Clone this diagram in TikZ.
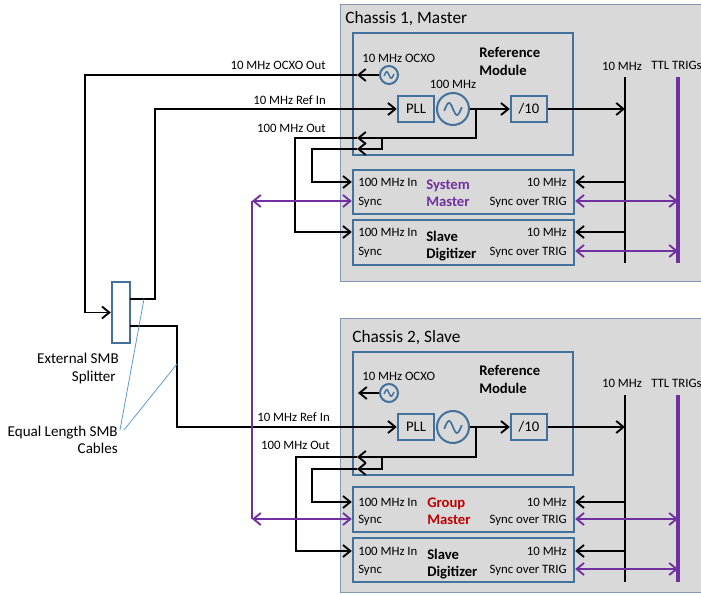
\documentclass[tikz,border=0pt]{standalone}
\usepackage{fontspec}
\setmainfont{Carlito}
\usetikzlibrary{arrows.meta,fit}
\definecolor{chfill}{HTML}{D9D9D9}
\definecolor{chline}{HTML}{8497B0}
\definecolor{boxblue}{HTML}{41719C}
\definecolor{purp}{HTML}{7030A0}
\definecolor{redm}{HTML}{C00000}
\definecolor{annot}{HTML}{5B9BD5}
\begin{document}
\begin{tikzpicture}[x=0.75pt,y=-0.75pt,
  chassis/.style={draw=chline, fill=chfill, line width=0.75pt, inner sep=0pt},
  modbox/.style={draw=boxblue, line width=1.8pt, inner sep=0pt},
  smallbox/.style={draw=boxblue, line width=1.8pt, inner sep=0pt, minimum width=27pt, minimum height=19.5pt, font=\fontsize{11}{13}\selectfont},
  oscbig/.style={circle, draw=boxblue, line width=1.5pt, inner sep=0pt, minimum size=24pt},
  oscsmall/.style={circle, draw=boxblue, line width=1.5pt, inner sep=0pt, minimum size=13.5pt},
  conn/.style={line width=1.4pt, black},
  arr/.style={-{Straight Barb[length=5.5pt,width=9pt]}},
  darr/.style={{Straight Barb[length=5.5pt,width=9pt]}-{Straight Barb[length=5.5pt,width=9pt]}},
  pconn/.style={line width=1.4pt, purp},
  lbl/.style={font=\fontsize{9.6}{11}\selectfont, inner sep=0pt, text height=6.2pt, text depth=0pt},
  biglbl/.style={font=\fontsize{11.3}{13}\selectfont, inner sep=0pt, text height=7.3pt, text depth=0pt},
  blbl/.style={font=\fontsize{11}{13}\selectfont\bfseries, inner sep=0pt, text height=7.1pt, text depth=0pt, anchor=west},
  ttl/.style={font=\fontsize{13}{15}\selectfont, inner sep=0pt, text height=8.4pt, text depth=0pt, anchor=west},
  sine/.style={boxblue, line width=1.3pt}
]
\useasboundingbox (0,0) rectangle (701,595);
\clip (0,0) rectangle (701,595);

% chassis
\node[chassis, fit={(340,5) (712,282)}] (ch1) {};
\node[chassis, fit={(340,319) (712,593)}] (ch2) {};
\node[ttl] (ch1lbl) at (345,18) {Chassis 1, Master};
\node[ttl] (ch2lbl) at (352,337) {Chassis 2, Slave};

% reference modules
\node[modbox, fit={(353,33) (573,155)}] (rm1) {};
\node[modbox, fit={(353,352) (573,475)}] (rm2) {};

% chassis 1 internals
\node[smallbox] (pll1) at (416,109) {PLL};
\node[oscbig] (osc1) at (453,109) {};
\node[smallbox] (div1) at (529,109) {/10};
\node[oscsmall] (ocxo1) at (389,75) {};
\node[lbl, anchor=west] (ocxolbl1) at (362,58) {10 MHz OCXO};
\node[lbl] (osclbl1) at (453,84) {100 MHz};
\node[blbl] (rml1a) at (479,53) {Reference};
\node[blbl] (rml1b) at (479,71) {Module};
\draw[sine, shift={(osc1.center)}] plot[domain=-1.1:1.1, samples=31] ({8*\x},{6*sin(180*\x)});
\draw[sine, line width=1.1pt, shift={(ocxo1.center)}] plot[domain=-1.1:1.1, samples=25] ({4.5*\x},{3.2*sin(180*\x)});

% chassis 2 internals
\node[smallbox] (pll2) at (416,427) {PLL};
\node[oscbig] (osc2) at (453,427) {};
\node[smallbox] (div2) at (529,427) {/10};
\node[oscsmall] (ocxo2) at (389,393) {};
\node[lbl, anchor=west] (ocxolbl2) at (362,376) {10 MHz OCXO};
\node[blbl] (rml2a) at (479,371) {Reference};
\node[blbl] (rml2b) at (479,389) {Module};
\draw[sine, shift={(osc2.center)}] plot[domain=-1.1:1.1, samples=31] ({8*\x},{6*sin(180*\x)});
\draw[sine, line width=1.1pt, shift={(ocxo2.center)}] plot[domain=-1.1:1.1, samples=25] ({4.5*\x},{3.2*sin(180*\x)});

% digitizer boxes
\node[modbox, fit={(353,170) (574,214)}] (sm1) {};
\node[modbox, fit={(353,220) (574,265)}] (sd1) {};
\node[modbox, fit={(353,487) (574,532)}] (gm2) {};
\node[modbox, fit={(353,538) (574,582)}] (sd2) {};

% box texts
\foreach \bx/\ya/\yb in {sm1/182/201, sd1/232/251, gm2/502/519, sd2/551/569}{
  \node[lbl, anchor=west] at (358,\ya) {100 MHz In};
  \node[lbl, anchor=west] at (358,\yb) {Sync};
  \node[lbl, anchor=east] at (567,\ya) {10 MHz};
  \node[lbl, anchor=east] at (567,\yb) {Sync over TRIG};
}
\node[blbl, text=purp] (smla) at (426,185) {System};
\node[blbl, text=purp] (smlb) at (426,202) {Master};
\node[blbl] (sdla) at (426,237) {Slave};
\node[blbl] (sdlb) at (426,254) {Digitizer};
\node[blbl, text=redm] (gmla) at (427,503) {Group};
\node[blbl, text=redm] (gmlb) at (427,520) {Master};
\node[blbl] (sd2la) at (427,555) {Slave};
\node[blbl] (sd2lb) at (427,572) {Digitizer};

% buses
\coordinate (b1t) at (625,77); \coordinate (b1b) at (625,263);
\coordinate (t1t) at (678,77); \coordinate (t1b) at (678,263);
\coordinate (b2t) at (625,395); \coordinate (b2b) at (625,582);
\coordinate (t2t) at (678,395); \coordinate (t2b) at (678,582);
\draw[conn] (b1t) -- (b1b);
\draw[conn] (b2t) -- (b2b);
\draw[purp, line width=3pt] (t1t) -- (t1b);
\draw[purp, line width=3pt] (t2t) -- (t2b);
\node[lbl] (b1lbl) at (622,66) {10 MHz};
\node[lbl] (b2lbl) at (622,383) {10 MHz};
\node[lbl, anchor=west] (t1lbl) at (651,65) {TTL TRIGs};
\node[lbl, anchor=west] (t2lbl) at (651,383) {TTL TRIGs};

% signal chain inside modules
\draw[conn,arr] (osc1.east) -- (div1.west);
\draw[conn,arr] (div1.east) -- (b1t |- div1.east);
\draw[conn,arr] (osc2.east) -- (div2.west);
\draw[conn,arr] (div2.east) -- (b2t |- div2.east);

% bus to boxes
\foreach \bx/\ya/\yb/\bb/\tb in {sm1/182/201/b1t/t1t, sd1/232/251/b1t/t1t, gm2/502/519/b2t/t2t, sd2/551/569/b2t/t2t}{
  \draw[conn,arr] (\bb |- 0,\ya) -- (\bx.east |- 0,\ya);
  \draw[pconn,darr] (\bx.east |- 0,\yb) -- (\tb |- 0,\yb);
}

% splitter
\node[modbox, fill=white, fit={(112,282) (130,343)}] (split) {};
\coordinate (sp1) at (130,299);
\coordinate (sp2) at (130,326);

% OCXO outputs
\coordinate (o1tip) at (357,75);
\coordinate (o2tip) at (358,393);
\draw[conn,arr] (ocxo1.west) -- (o1tip);
\draw[conn,arr] (o1tip) -- (85,75) |- (split.west);
\draw[conn,arr] (ocxo2.west) -- (o2tip);

% ref in
\draw[conn,arr] (sp1) -- (155,299) |- (pll1.west);
\draw[conn,arr] (sp2) -- (177,326) |- (pll2.west);

% 100 MHz out, chassis 1
\coordinate (j1) at (476,109);
\coordinate (h1a) at (357,138);
\coordinate (h1b) at (357,149);
\draw[conn,arr] (j1) -- (476,138) -- (h1a);
\draw[conn,arr] (382,138) -- (382,149) -- (h1b);
\draw[conn,arr] (h1a) -- (295,138) |- (sd1.west |- 0,232);
\draw[conn,arr] (h1b) -- (312,149) |- (sm1.west |- 0,182);

% 100 MHz out, chassis 2
\coordinate (j2) at (476,427);
\coordinate (h2a) at (357,457);
\coordinate (h2b) at (357,469);
\draw[conn,arr] (j2) -- (476,457) -- (h2a);
\draw[conn,arr] (382,457) -- (382,469) -- (h2b);
\draw[conn,arr] (h2a) -- (296,457) |- (sd2.west |- 0,551);
\draw[conn,arr] (h2b) -- (312,469) |- (gm2.west |- 0,502);

% sync purple
\coordinate (ps1) at (252,201);
\coordinate (ps2) at (252,519);
\draw[pconn] (ps1) -- (ps2);
\draw[pconn,darr] (ps1) -- (sm1.west |- ps1);
\draw[pconn,darr] (ps2) -- (gm2.west |- ps2);

% external labels
\node[lbl, anchor=east] (l1) at (326,65) {10 MHz OCXO Out};
\node[lbl, anchor=east] (l2) at (326,100) {10 MHz Ref In};
\node[lbl, anchor=east] (l3) at (326,128) {100 MHz Out};
\node[lbl, anchor=east] (l4) at (330,417) {10 MHz Ref In};
\node[lbl, anchor=east] (l5) at (330,445) {100 MHz Out};
\node[biglbl, anchor=east] (ext1) at (119,359) {External SMB};
\node[biglbl, anchor=east] (ext2) at (116,377) {Splitter};
\node[biglbl, anchor=east] (eq1) at (118,432) {Equal Length SMB};
\node[biglbl, anchor=east] (eq2) at (118,449) {Cables};

% annotation lines
\coordinate (eqa) at (120,430);
\coordinate (eqb) at (124,430);
\draw[annot, line width=0.6pt] (eqa) -- (144,299);
\draw[annot, line width=0.6pt] (eqb) -- (177,364);
\end{tikzpicture}
\end{document}
